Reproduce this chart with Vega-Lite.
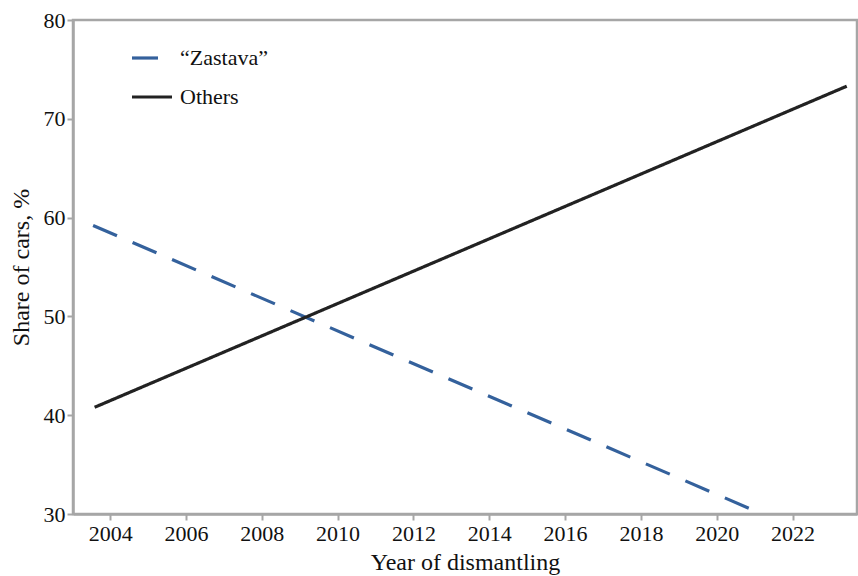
{
  "$schema": "https://vega.github.io/schema/vega-lite/v6.json",
  "width": 784,
  "height": 494,
  "autosize": {"type": "none"},
  "padding": {"left": 73, "top": 20, "right": 1, "bottom": 62},
  "background": "white",
  "config": {
    "font": "'Liberation Serif', 'DejaVu Serif', serif",
    "view": {"stroke": "#a6a6a6", "strokeWidth": 2.5},
    "axis": {
      "grid": false,
      "domainColor": "#a6a6a6",
      "domainWidth": 2.5,
      "tickColor": "#a6a6a6",
      "tickWidth": 2,
      "tickSize": 6,
      "labelColor": "#111111",
      "labelFont": "'Liberation Serif', 'DejaVu Serif', serif",
      "labelFontSize": 22,
      "titleFont": "'Liberation Serif', 'DejaVu Serif', serif",
      "titleFontSize": 24,
      "titleFontWeight": "normal",
      "titleColor": "#111111"
    },
    "legend": {
      "labelFont": "'Liberation Serif', 'DejaVu Serif', serif"
    }
  },
  "data": {
    "values": [
      {"series": "“Zastava”", "year": 2003.55, "share": 59.2},
      {"series": "“Zastava”", "year": 2021.2, "share": 30.0},
      {"series": "Others", "year": 2003.59, "share": 40.8},
      {"series": "Others", "year": 2023.43, "share": 73.3}
    ]
  },
  "mark": {"type": "line", "strokeWidth": 3.2, "clip": true},
  "encoding": {
    "x": {
      "field": "year",
      "type": "quantitative",
      "scale": {"domain": [2003.02, 2023.7], "nice": false, "zero": false},
      "axis": {
        "values": [2004, 2006, 2008, 2010, 2012, 2014, 2016, 2018, 2020, 2022],
        "format": "d",
        "title": "Year of dismantling",
        "labelPadding": 3,
        "titlePadding": 6
      }
    },
    "y": {
      "field": "share",
      "type": "quantitative",
      "scale": {"domain": [30, 80], "nice": false, "zero": false},
      "axis": {
        "values": [30, 40, 50, 60, 70, 80],
        "title": "Share of cars, %",
        "labelPadding": 2,
        "titlePadding": 10
      }
    },
    "color": {
      "field": "series",
      "type": "nominal",
      "scale": {"domain": ["“Zastava”", "Others"], "range": ["#34619c", "#222222"]},
      "legend": {
        "orient": "none",
        "legendX": 57,
        "legendY": 16,
        "title": null,
        "symbolType": "stroke",
        "symbolSize": 1600,
        "symbolStrokeWidth": 3.2,
        "labelFontSize": 22,
        "labelColor": "#111111",
        "rowPadding": 6,
        "labelOffset": 6
      }
    },
    "strokeDash": {
      "field": "series",
      "type": "nominal",
      "scale": {"domain": ["“Zastava”", "Others"], "range": [[26, 17], [1, 0]]},
      "legend": null
    },
    "order": {"field": "year", "type": "quantitative"}
  }
}
